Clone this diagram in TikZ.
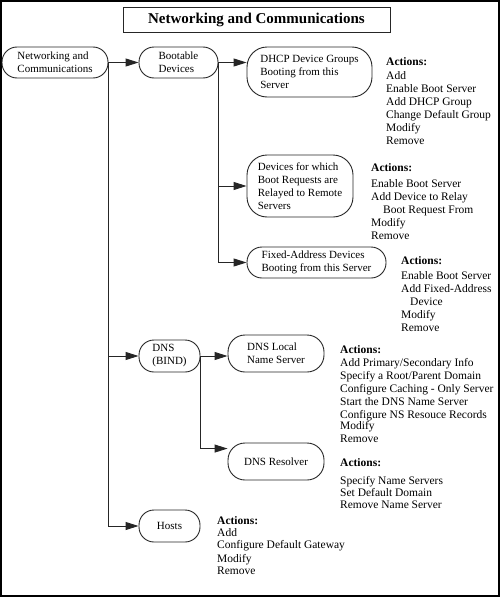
\documentclass[tikz,border=0pt]{standalone}
\usepackage{fontspec}
\setmainfont{Liberation Serif}
\usetikzlibrary{arrows.meta}
\begin{document}
\begin{tikzpicture}[x=1pt,y=-1pt,
  line/.style={draw=black!85, line width=0.9pt},
  box/.style={line, rounded corners=15pt, align=left, inner sep=0pt, font=\fontsize{11}{13}\selectfont},
  arr/.style={line, -{Triangle[length=13pt,width=8pt]}},
  act/.style={anchor=north west, align=left, inner sep=0pt, font=\fontsize{11.5}{13}\selectfont},
]
\useasboundingbox (0,0) rectangle (500,597);
\draw[line width=2pt] (1,1) rectangle (499,596);
\node[line, inner sep=0pt, minimum width=267pt, minimum height=25pt, font=\fontsize{15}{18}\selectfont\bfseries] (title) at (256.5,19.5) {Networking and Communications};

\node[box, minimum width=106pt, minimum height=31pt] (nc) at (55,62.5) {Networking and\\Communications};
\node[box, minimum width=79pt, minimum height=31pt] (boot) at (178.5,62.5) {Bootable\\Devices};
\node[box, rounded corners=20pt, minimum width=125pt, minimum height=50pt] (dhcp) at (309.5,72) {DHCP Device Groups\\Booting from this\\Server};
\node[box, rounded corners=20pt, minimum width=106pt, minimum height=62pt] (dev) at (300,186) {Devices for which\\Boot Requests are\\Relayed to Remote\\Servers};
\node[box, minimum width=139pt, minimum height=31pt] (fixed) at (316.5,262.5) {Fixed-Address Devices\\Booting from this Server};
\node[box, minimum width=61pt, minimum height=32pt] (dns) at (169.5,356) {DNS\\(BIND)};
\node[box, rounded corners=17pt, minimum width=96pt, minimum height=37pt] (local) at (276,353.5) {DNS Local\\Name Server};
\node[box, rounded corners=17pt, minimum width=96pt, minimum height=37pt] (res) at (276,461.5) {DNS Resolver};
\node[box, minimum width=61pt, minimum height=32pt] (hosts) at (169.5,526) {Hosts};

\draw[arr] (nc.east) -- (boot.west);
\draw[arr] (nc.east) |- (dns.west);
\draw[arr] (nc.east) |- (hosts.west);
\draw[arr] (boot.east) -- (boot.east -| dhcp.west);
\draw[arr] (boot.east) |- (dev.west);
\draw[arr] (boot.east) |- (fixed.west);
\draw[arr] (dns.east) -- (dns.east -| local.west);
\draw[arr] (dns.east) |- ([yshift=-6pt]res.north west);

\node[act] (a1) at (386,57) {\textbf{Actions:}\\[1pt]Add\\Enable Boot Server\\Add DHCP Group\\Change Default Group\\Modify\\Remove};
\node[act] (a2) at (371,163) {\textbf{Actions:}\\[3pt]Enable Boot Server\\Add Device to Relay\\\hspace*{12pt}Boot Request From\\Modify\\Remove};
\node[act] (a3) at (401,256) {\textbf{Actions:}\\[2pt]Enable Boot Server\\Add Fixed-Address\\\hspace*{9pt}Device\\Modify\\Remove};
\node[act] (a4) at (340,345) {\textbf{Actions:}\\Add Primary/Secondary Info\\Specify a Root/Parent Domain\\Configure Caching - Only Server\\Start the DNS Name Server\\Configure NS Resouce Records\\[-2pt]Modify\\Remove};
\node[act] (a5) at (340,458) {\textbf{Actions:}\\[5pt]Specify Name Servers\\[-1pt]Set Default Domain\\[-1pt]Remove Name Server};
\node[act] (a6) at (217,516) {\textbf{Actions:}\\[-1pt]Add\\[-1pt]Configure Default Gateway\\[1pt]Modify\\[-1pt]Remove};
\end{tikzpicture}
\end{document}
